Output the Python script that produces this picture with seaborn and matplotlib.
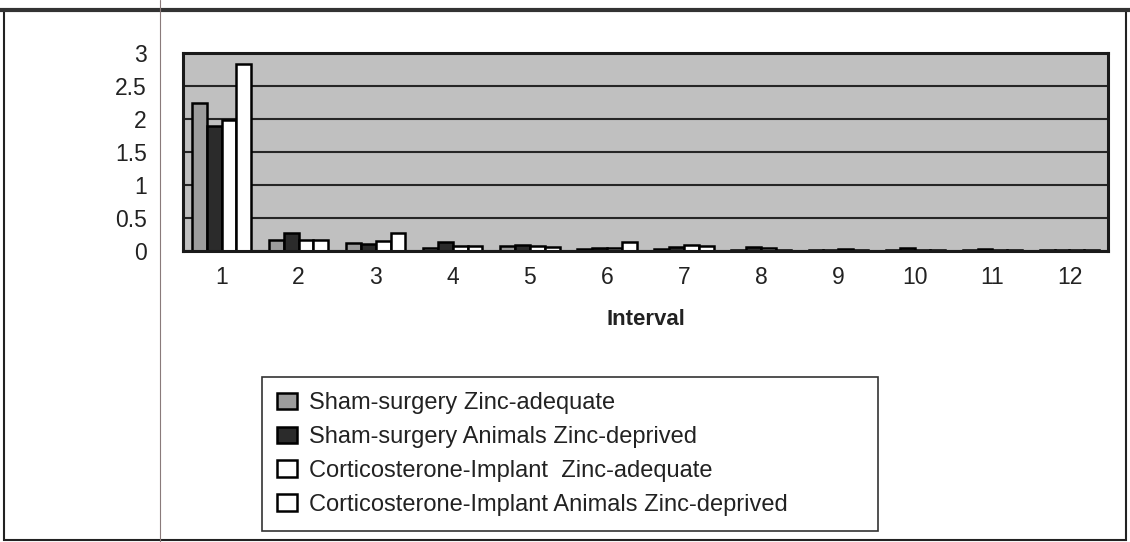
import matplotlib
matplotlib.use("Agg")
import matplotlib.pyplot as plt
import seaborn as sns
import pandas as pd
from matplotlib.patches import Patch, Rectangle
from matplotlib.lines import Line2D

intervals = ["1", "2", "3", "4", "5", "6", "7", "8", "9", "10", "11", "12"]
groups = [
    "Sham-surgery Zinc-adequate",
    "Sham-surgery Animals Zinc-deprived",
    "Corticosterone-Implant  Zinc-adequate",
    "Corticosterone-Implant Animals Zinc-deprived",
]
sham_zinc_adequate = [2.24, 0.16, 0.12, 0.05, 0.08, 0.03, 0.03, 0.02, 0.01, 0.01, 0.01, 0.01]
sham_zinc_deprived = [1.90, 0.27, 0.11, 0.13, 0.09, 0.05, 0.06, 0.06, 0.02, 0.05, 0.03, 0.02]
cort_zinc_adequate = [1.98, 0.16, 0.15, 0.07, 0.08, 0.05, 0.09, 0.05, 0.03, 0.01, 0.01, 0.01]
cort_zinc_deprived = [2.83, 0.16, 0.27, 0.07, 0.06, 0.14, 0.08, 0.02, 0.01, 0.01, 0.01, 0.01]
bar_colors = ["#9c9c9c", "#2b2b2b", "#ffffff", "#ffffff"]
y_ticks = [0, 0.5, 1, 1.5, 2, 2.5, 3]
y_tick_labels = ["0", "0.5", "1", "1.5", "2", "2.5", "3"]

series = [sham_zinc_adequate, sham_zinc_deprived, cort_zinc_adequate, cort_zinc_deprived]
rows = []
for g, vals in zip(groups, series):
    for iv, v in zip(intervals, vals):
        rows.append({"Interval": iv, "Value": v, "Group": g})
df = pd.DataFrame(rows)

sns.set_style("white")
plt.rcParams["font.family"] = ["Liberation Sans", "DejaVu Sans"]

W, H = 1130, 542
fig = plt.figure(figsize=(W / 100, H / 100), dpi=100)
ax = fig.add_axes([183 / W, 1 - 251 / H, (1108 - 183) / W, (251 - 53) / H])
ax.set_facecolor("#c0c0c0")

sns.barplot(data=df, x="Interval", y="Value", hue="Group", hue_order=groups,
            order=intervals, palette=bar_colors, edgecolor="black", linewidth=1.8,
            width=0.77, ax=ax, legend=False, errorbar=None, saturation=1)

ax.set_xlim(-0.5, 11.5)
ax.set_ylim(0, 3)
ax.set_yticks(y_ticks)
ax.set_yticklabels(y_tick_labels, fontsize=16.5, color="#222222")
ax.yaxis.grid(True, color="#262626", linewidth=1.5)
ax.set_axisbelow(True)
for s in ax.spines.values():
    s.set_color("#1a1a1a")
    s.set_linewidth(2.2)

ax.set_xticks(range(12))
ax.set_xticklabels(intervals, fontsize=16.5, color="#222222")
ax.set_xticks([i - 0.5 for i in range(13)], minor=True)
ax.tick_params(axis="x", which="major", length=0, pad=11)
ax.tick_params(axis="x", which="minor", length=8, width=1.2, color="#333333", direction="out")
ax.tick_params(axis="y", length=9, width=1.2, color="#333333", direction="out", pad=17)
ax.set_xlabel("Interval", fontsize=16, fontweight="bold", labelpad=14, color="#222222")
ax.set_ylabel("")

handles = [Patch(facecolor=c, edgecolor="black", linewidth=1.8) for c in bar_colors]
x0, x1 = 262 / W, 878 / W
leg = fig.legend(handles, groups, loc="upper left", mode="expand",
                 bbox_to_anchor=(x0, 1 - 377 / H - 0.2, x1 - x0, 0.2), bbox_transform=fig.transFigure,
                 fontsize=17, frameon=True, fancybox=False, edgecolor="black",
                 handlelength=0.85, handleheight=0.7, handletextpad=0.5,
                 labelspacing=0.5, borderpad=0.65, borderaxespad=0)
leg.get_frame().set_linewidth(1.2)
for t in leg.get_texts():
    t.set_color("#222222")

# outer chart frame and page artefacts
fig.add_artist(Rectangle((4 / W, 2 / H), (1126 - 4) / W, (532 - 2) / H,
                         transform=fig.transFigure, fill=False, edgecolor="#222222", linewidth=1.5))
fig.add_artist(Line2D([0, 1], [1 - 10 / H, 1 - 10 / H], transform=fig.transFigure,
                      color="#333333", linewidth=3))
fig.add_artist(Line2D([160 / W, 160 / W], [0, 1], transform=fig.transFigure,
                      color="#8a7a7a", linewidth=0.8))

fig.savefig("out.png", dpi=100)
